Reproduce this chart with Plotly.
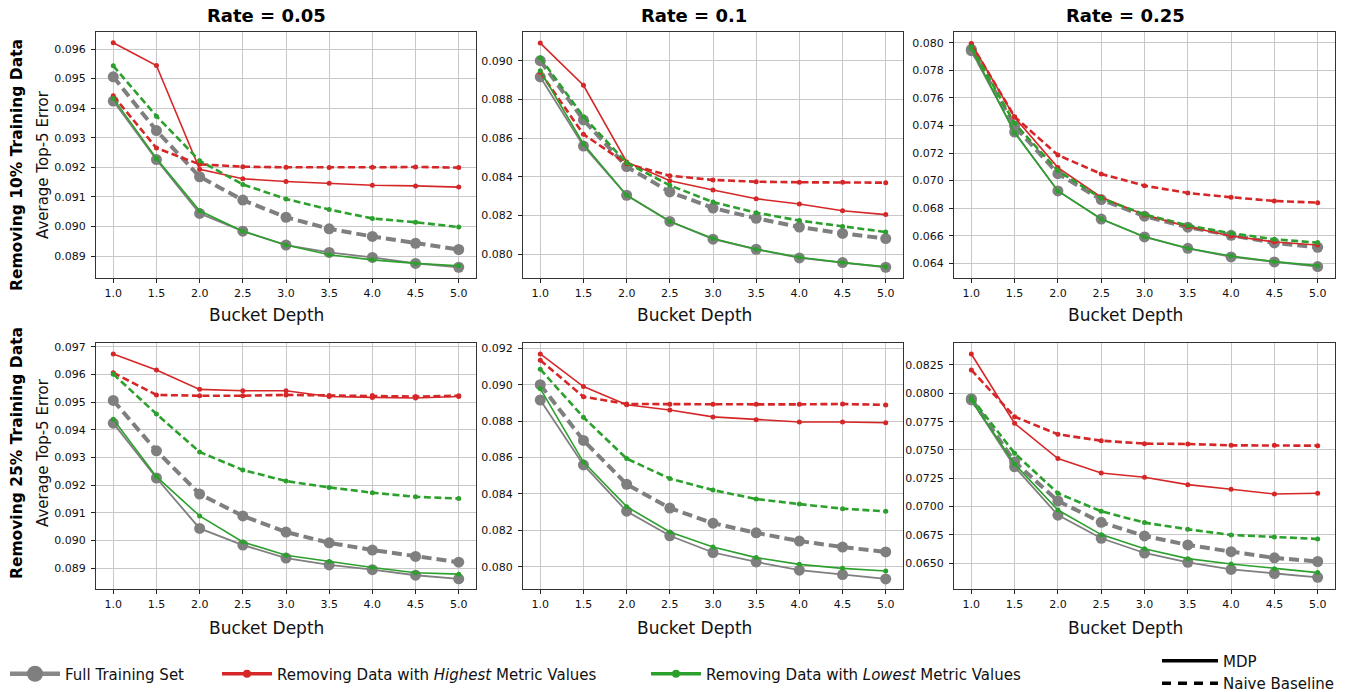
import plotly.graph_objects as go

# ---------------- data ----------------
depth = [1.0, 1.5, 2.0, 2.5, 3.0, 3.5, 4.0, 4.5, 5.0]
rate_labels = ["0.05", "0.1", "0.25"]
row_labels = ["Removing 10% Training Data", "Removing 25% Training Data"]

# Full training set (same for both removal rows)
full_mdp_r005 = [0.09424, 0.09226, 0.09044, 0.08984, 0.08937, 0.08912, 0.08895, 0.08875, 0.08862]
full_naive_r005 = [0.09506, 0.09324, 0.09168, 0.09089, 0.09031, 0.08992, 0.08966, 0.08943, 0.08922]
full_mdp_r01 = [0.08916, 0.08559, 0.08305, 0.08170, 0.08078, 0.08026, 0.07981, 0.07957, 0.07933]
full_naive_r01 = [0.09000, 0.08694, 0.08453, 0.08322, 0.08239, 0.08186, 0.08141, 0.08108, 0.08081]
full_mdp_r025 = [0.07942, 0.07352, 0.06925, 0.06721, 0.06591, 0.06509, 0.06446, 0.06410, 0.06376]
full_naive_r025 = [0.07952, 0.07395, 0.07050, 0.06862, 0.06742, 0.06662, 0.06603, 0.06548, 0.06516]

# Removing 10%
high_mdp_r005_p10 = [0.09621, 0.09544, 0.09193, 0.09161, 0.09152, 0.09146, 0.09139, 0.09137, 0.09133]
high_naive_r005_p10 = [0.09442, 0.09265, 0.09210, 0.09202, 0.09200, 0.09199, 0.09200, 0.09201, 0.09199]
low_mdp_r005_p10 = [0.09433, 0.09230, 0.09053, 0.08984, 0.08937, 0.08904, 0.08887, 0.08875, 0.08867]
low_naive_r005_p10 = [0.09543, 0.09373, 0.09222, 0.09142, 0.09093, 0.09057, 0.09027, 0.09014, 0.08998]

high_mdp_r01_p10 = [0.09091, 0.08873, 0.08477, 0.08380, 0.08332, 0.08287, 0.08260, 0.08225, 0.08205]
high_naive_r01_p10 = [0.08940, 0.08620, 0.08468, 0.08406, 0.08384, 0.08375, 0.08372, 0.08372, 0.08370]
low_mdp_r01_p10 = [0.08948, 0.08570, 0.08305, 0.08170, 0.08081, 0.08026, 0.07985, 0.07957, 0.07936]
low_naive_r01_p10 = [0.09015, 0.08711, 0.08473, 0.08356, 0.08270, 0.08215, 0.08174, 0.08143, 0.08115]

high_mdp_r025_p10 = [0.07995, 0.07459, 0.07094, 0.06879, 0.06750, 0.06666, 0.06598, 0.06555, 0.06533]
high_naive_r025_p10 = [0.07990, 0.07463, 0.07185, 0.07048, 0.06963, 0.06910, 0.06879, 0.06852, 0.06840]
low_mdp_r025_p10 = [0.07959, 0.07347, 0.06925, 0.06721, 0.06593, 0.06509, 0.06453, 0.06412, 0.06383]
low_naive_r025_p10 = [0.07971, 0.07415, 0.07072, 0.06871, 0.06755, 0.06675, 0.06618, 0.06574, 0.06550]

# Removing 25%
high_mdp_r005_p25 = [0.09674, 0.09616, 0.09546, 0.09541, 0.09541, 0.09520, 0.09517, 0.09515, 0.09520]
high_naive_r005_p25 = [0.09606, 0.09526, 0.09523, 0.09523, 0.09526, 0.09524, 0.09524, 0.09520, 0.09523]
low_mdp_r005_p25 = [0.09438, 0.09231, 0.09089, 0.08995, 0.08947, 0.08925, 0.08903, 0.08884, 0.08879]
low_naive_r005_p25 = [0.09601, 0.09457, 0.09320, 0.09255, 0.09215, 0.09192, 0.09173, 0.09158, 0.09152]

high_mdp_r01_p25 = [0.09169, 0.08990, 0.08890, 0.08861, 0.08823, 0.08808, 0.08795, 0.08795, 0.08791]
high_naive_r01_p25 = [0.09134, 0.08934, 0.08894, 0.08892, 0.08892, 0.08892, 0.08892, 0.08894, 0.08889]
low_mdp_r01_p25 = [0.08978, 0.08575, 0.08330, 0.08191, 0.08108, 0.08050, 0.08013, 0.07991, 0.07976]
low_naive_r01_p25 = [0.09085, 0.08821, 0.08594, 0.08484, 0.08421, 0.08372, 0.08344, 0.08319, 0.08304]

high_mdp_r025_p25 = [0.08347, 0.07735, 0.07424, 0.07297, 0.07259, 0.07194, 0.07153, 0.07112, 0.07118]
high_naive_r025_p25 = [0.08206, 0.07794, 0.07638, 0.07582, 0.07556, 0.07553, 0.07541, 0.07541, 0.07538]
low_mdp_r025_p25 = [0.07941, 0.07376, 0.06970, 0.06753, 0.06629, 0.06541, 0.06494, 0.06453, 0.06418]
low_naive_r025_p25 = [0.07962, 0.07471, 0.07118, 0.06959, 0.06859, 0.06800, 0.06750, 0.06732, 0.06715]

panels = [
    # row 0
    (full_mdp_r005, full_naive_r005, high_mdp_r005_p10, high_naive_r005_p10, low_mdp_r005_p10, low_naive_r005_p10),
    (full_mdp_r01, full_naive_r01, high_mdp_r01_p10, high_naive_r01_p10, low_mdp_r01_p10, low_naive_r01_p10),
    (full_mdp_r025, full_naive_r025, high_mdp_r025_p10, high_naive_r025_p10, low_mdp_r025_p10, low_naive_r025_p10),
    # row 1
    (full_mdp_r005, full_naive_r005, high_mdp_r005_p25, high_naive_r005_p25, low_mdp_r005_p25, low_naive_r005_p25),
    (full_mdp_r01, full_naive_r01, high_mdp_r01_p25, high_naive_r01_p25, low_mdp_r01_p25, low_naive_r01_p25),
    (full_mdp_r025, full_naive_r025, high_mdp_r025_p25, high_naive_r025_p25, low_mdp_r025_p25, low_naive_r025_p25),
]

# ---------------- layout geometry ----------------
W, H = 1353, 692
FONT = "DejaVu Sans"
GRAY, RED, GREEN = "#7f7f7f", "#d62728", "#2ca02c"

def px(x):
    return x / W

def py(y):
    return 1 - y / H

col_px = [(96, 476), (523, 903), (954, 1335)]
row_px = [(32, 278), (343, 589)]
y_ranges = [
    (0.088256, 0.096575), (0.078775, 0.091483), (0.062934, 0.080776),
    (0.088253, 0.097134), (0.078775, 0.092291), (0.062732, 0.084441),
]
y_dticks = [0.001, 0.002, 0.002, 0.001, 0.002, 0.0025]
y_fmt = [".3f", ".3f", ".3f", ".3f", ".3f", ".4f"]

fig = go.Figure()

for k, series in enumerate(panels):
    r, c = divmod(k, 3)
    xa = "x" if k == 0 else f"x{k+1}"
    ya = "y" if k == 0 else f"y{k+1}"
    f_m, f_n, h_m, h_n, l_m, l_n = series
    specs = [
        (f_m, GRAY, "solid", 1.8, 11),
        (f_n, GRAY, "10px,5px", 4.0, 11),
        (h_m, RED, "solid", 1.6, 5),
        (h_n, RED, "7px,3.5px", 2.6, 5),
        (l_m, GREEN, "solid", 1.6, 5),
        (l_n, GREEN, "7px,3.5px", 2.6, 5),
    ]
    for vals, col, dash, lw, ms in specs:
        fig.add_trace(go.Scatter(
            x=depth, y=vals, xaxis=xa, yaxis=ya, mode="lines+markers",
            line=dict(color=col, width=lw, dash=dash),
            marker=dict(color=col, size=ms, line=dict(width=0)),
            showlegend=False, hoverinfo="skip",
        ))

    axis_common = dict(
        showline=True, mirror=True, linecolor="#333333", linewidth=1.2,
        showgrid=True, gridcolor="#c8c8c8", gridwidth=1,
        ticks="outside", ticklen=4, tickwidth=1, tickcolor="#222222",
        tickfont=dict(family=FONT, size=11, color="#111111"),
        zeroline=False,
    )
    x0, x1 = col_px[c]
    y0, y1 = row_px[r]
    fig.layout[("xaxis" if k == 0 else f"xaxis{k+1}")] = dict(
        axis_common, domain=[px(x0), px(x1)], anchor=ya, range=[0.8, 5.2],
        tick0=1.0, dtick=0.5, tickformat=".1f", ticklabelstandoff=1,
    )
    fig.layout[("yaxis" if k == 0 else f"yaxis{k+1}")] = dict(
        axis_common, domain=[py(y1), py(y0)], anchor=xa, range=list(y_ranges[k]),
        tick0=0, dtick=y_dticks[k], tickformat=y_fmt[k], ticklabelstandoff=3,
    )

# ---------------- legends ----------------
fig.add_trace(go.Scatter(x=[None], y=[None], mode="lines+markers", name="Full Training Set",
                         line=dict(color="#888888", width=4.5), marker=dict(color=GRAY, size=18),
                         legend="legend", showlegend=True))
fig.add_trace(go.Scatter(x=[None], y=[None], mode="lines+markers",
                         name="Removing Data with <i>Highest</i> Metric Values",
                         line=dict(color=RED, width=3.5), marker=dict(color=RED, size=8),
                         legend="legend2", showlegend=True))
fig.add_trace(go.Scatter(x=[None], y=[None], mode="lines+markers",
                         name="Removing Data with <i>Lowest</i> Metric Values",
                         line=dict(color=GREEN, width=3.5), marker=dict(color=GREEN, size=8),
                         legend="legend3", showlegend=True))
fig.add_trace(go.Scatter(x=[None], y=[None], mode="lines", name="MDP",
                         line=dict(color="black", width=3.5), legend="legend4", showlegend=True))
fig.add_trace(go.Scatter(x=[None], y=[None], mode="lines", name="Naive Baseline",
                         line=dict(color="black", width=3.5, dash="9px,7px"), legend="legend4", showlegend=True))

leg_y = py(674)
leg_common = dict(font=dict(family=FONT, size=15, color="#111111"), bgcolor="rgba(0,0,0,0)",
                  borderwidth=0, yanchor="middle", xanchor="left", orientation="h",
                  itemwidth=50, tracegroupgap=0, xref="container", yref="container")
fig.update_layout(
    legend=dict(leg_common, x=px(5), y=leg_y),
    legend2=dict(leg_common, x=px(217), y=leg_y),
    legend3=dict(leg_common, x=px(646), y=leg_y),
    legend4=dict(leg_common, x=px(1157), y=py(672), orientation="v", itemwidth=56),
)

# ---------------- annotations ----------------
ann = []
title_x = [266, 694, 1125]
for c, lab in enumerate(rate_labels):
    ann.append(dict(text=f"<b>Rate = {lab}</b>", x=px(title_x[c]), y=py(16), xref="paper", yref="paper",
                    showarrow=False, xanchor="center", yanchor="middle",
                    font=dict(family=FONT, size=18, color="black")))
    for r, yc in enumerate([315, 628]):
        ann.append(dict(text="Bucket Depth", x=px(title_x[c]), y=py(yc), xref="paper", yref="paper",
                        showarrow=False, xanchor="center", yanchor="middle",
                        font=dict(family=FONT, size=17, color="#111111")))
for r, yc in enumerate([165, 453]):
    ann.append(dict(text=f"<b>{row_labels[r]}</b>", x=px(17), y=py(yc), xref="paper", yref="paper",
                    showarrow=False, textangle=-90, xanchor="center", yanchor="middle",
                    font=dict(family=FONT, size=15.5, color="black")))
    ann.append(dict(text="Average Top-5 Error", x=px(43), y=py(yc), xref="paper", yref="paper",
                    showarrow=False, textangle=-90, xanchor="center", yanchor="middle",
                    font=dict(family=FONT, size=15, color="#111111")))

fig.update_layout(
    width=W, height=H, margin=dict(l=0, r=0, t=0, b=0, autoexpand=False),
    paper_bgcolor="white", plot_bgcolor="white",
    font=dict(family=FONT),
    annotations=ann,
)

fig.write_html("out.html")
